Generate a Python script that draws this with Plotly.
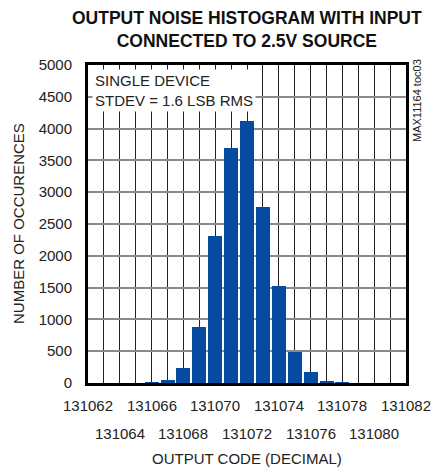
import plotly.graph_objects as go

# Data
codes = [131066, 131067, 131068, 131069, 131070, 131071, 131072,
         131073, 131074, 131075, 131076, 131077, 131078]
counts = [12, 40, 240, 880, 2310, 3700, 4120, 2770, 1530, 480, 175, 20, 12]

x_labels_row1 = [131062, 131066, 131070, 131074, 131078, 131082]
x_labels_row2 = [131064, 131068, 131072, 131076, 131080]
y_ticks = list(range(0, 5001, 500))

title_text = "OUTPUT NOISE HISTOGRAM WITH INPUT<br>CONNECTED TO 2.5V SOURCE"
x_title = "OUTPUT CODE (DECIMAL)"
y_title = "NUMBER OF OCCURENCES"
note_text = "SINGLE DEVICE<br>STDEV = 1.6 LSB RMS"
side_text = "MAX11164 toc03"

FONT = "Liberation Sans, Arial, sans-serif"
NARROW = "Liberation Sans Narrow, Arial Narrow, Liberation Sans, Arial, sans-serif"
TXT = "#222"

fig = go.Figure()
fig.add_trace(go.Bar(x=codes, y=counts, width=0.88,
                     marker=dict(color="#054ca0", line=dict(width=0))))

annotations = []
for v in x_labels_row1:
    annotations.append(dict(x=v, y=0, xref="x", yref="paper", yshift=-22,
                            xanchor="center", yanchor="middle",
                            text=str(v), showarrow=False,
                            font=dict(family=FONT, size=15, color=TXT)))
for v in x_labels_row2:
    annotations.append(dict(x=v, y=0, xref="x", yref="paper", yshift=-50,
                            xanchor="center", yanchor="middle",
                            text=str(v), showarrow=False,
                            font=dict(family=FONT, size=15, color=TXT)))
annotations.append(dict(x=0.5, y=0, xref="paper", yref="paper", yshift=-75,
                        xanchor="center", yanchor="middle",
                        text=x_title, showarrow=False,
                        font=dict(family=FONT, size=15, color=TXT)))
annotations.append(dict(x=0, y=0.5, xref="paper", yref="paper", xshift=-70,
                        xanchor="center", yanchor="middle",
                        text=y_title, showarrow=False, textangle=-90,
                        font=dict(family=FONT, size=15, color=TXT)))
annotations.append(dict(x=0, y=1, xref="paper", yref="paper", xshift=4, yshift=-4,
                        xanchor="left", yanchor="top", align="left",
                        text=note_text, showarrow=False, bgcolor="white",
                        borderpad=2,
                        font=dict(family=FONT, size=15, color=TXT)))
annotations.append(dict(x=1, y=1, xref="paper", yref="paper", xshift=11, yshift=-36,
                        xanchor="center", yanchor="middle",
                        text=side_text, showarrow=False, textangle=-90,
                        font=dict(family=FONT, size=11, color=TXT)))
annotations.append(dict(x=0.5, y=1, xref="paper", yref="paper", yshift=36,
                        xanchor="center", yanchor="middle",
                        text=title_text, showarrow=False,
                        font=dict(family=NARROW, size=17.5, color="#111", weight="bold")))

fig.update_layout(
    width=441, height=472,
    margin=dict(l=88, r=35, t=65, b=89),
    paper_bgcolor="white", plot_bgcolor="white",
    showlegend=False,
    annotations=annotations,
    bargap=0,
)
fig.update_xaxes(range=[131062, 131082], tick0=131062, dtick=1,
                 showticklabels=False, ticks="",
                 showgrid=True, gridcolor="#222", gridwidth=1,
                 showline=True, mirror=True, linecolor="black", linewidth=3,
                 zeroline=False)
fig.update_yaxes(range=[0, 5000], tickvals=y_ticks, ticks="",
                 ticklabelstandoff=10,
                 tickfont=dict(family=FONT, size=15, color=TXT),
                 showgrid=True, gridcolor="#8a8a8a", gridwidth=2,
                 showline=True, mirror=True, linecolor="black", linewidth=3,
                 zeroline=False)

fig.write_html("out.html", config={"displayModeBar": False},
               post_script="document.body.style.margin='0px';")
